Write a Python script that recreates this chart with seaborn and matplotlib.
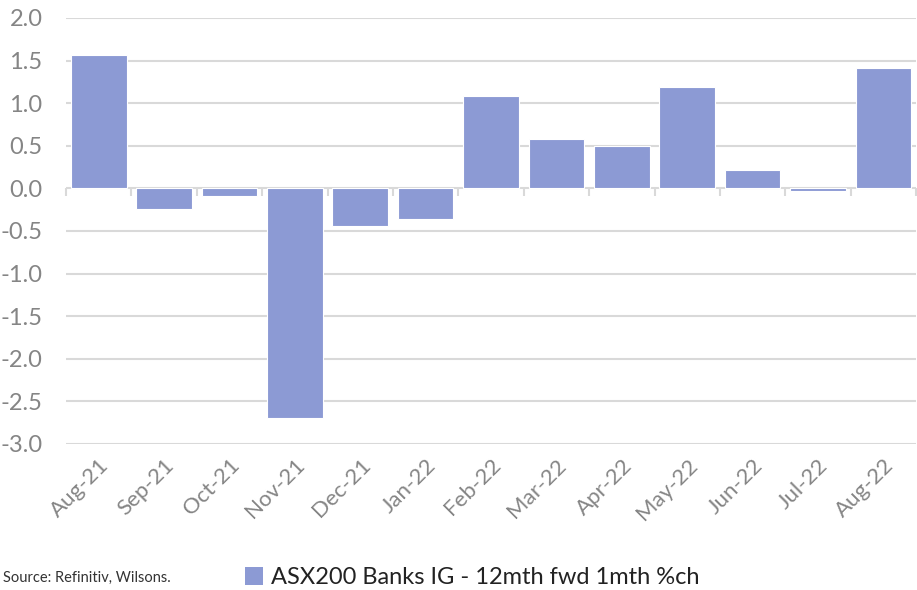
import numpy as np
import pandas as pd
import seaborn as sns
import matplotlib.pyplot as plt
from matplotlib.patches import Patch
from matplotlib.ticker import NullFormatter

months = ["Aug-21", "Sep-21", "Oct-21", "Nov-21", "Dec-21", "Jan-22", "Feb-22",
          "Mar-22", "Apr-22", "May-22", "Jun-22", "Jul-22", "Aug-22"]
pct_change = [1.57, -0.24, -0.09, -2.70, -0.44, -0.36, 1.09,
              0.58, 0.50, 1.19, 0.22, -0.03, 1.41]
y_ticks = [2.0, 1.5, 1.0, 0.5, 0.0, -0.5, -1.0, -1.5, -2.0, -2.5, -3.0]
series_name = "ASX200 Banks IG - 12mth fwd 1mth %ch"
source = "Source: Refinitiv, Wilsons."

bar_color = "#8c9ad4"
grid_color = "#d9d9d9"
label_color = "#858585"

sns.set_style("white")
plt.rcParams['font.family'] = ['Lato', 'DejaVu Sans']

df = pd.DataFrame({"month": months, "value": pct_change})

fig = plt.figure(figsize=(9.17, 5.90), dpi=100)
ax = fig.add_axes([0.072, 0.2475, 0.927, 0.722])

sns.barplot(data=df, x="month", y="value", color=bar_color, saturation=1,
            width=0.85, edgecolor="white", linewidth=0.8, ax=ax, zorder=3)

ax.set_ylim(-3.0, 2.0)
ax.set_xlim(-0.5, len(months) - 0.5)
ax.set_yticks(y_ticks)
ax.set_yticklabels([f"{v:.1f}" for v in y_ticks], fontsize=17, color=label_color)
ax.yaxis.grid(True, color=grid_color, linewidth=1.5, zorder=0)
ax.set_axisbelow(True)
ax.tick_params(axis="y", length=0, pad=17)
ax.tick_params(axis="x", length=0, pad=8)
ax.set_xticks(range(len(months)))
ax.set_xticklabels(months, rotation=45, ha="right", rotation_mode="anchor",
                   fontsize=16, color=label_color)
ax.set_xlabel("")
ax.set_ylabel("")
for s in ax.spines.values():
    s.set_visible(False)

# zero line with tick marks between categories
zero_frac = (0 - (-3.0)) / 5.0
zax = ax.secondary_xaxis(zero_frac)
zax.set_xticks(np.arange(-0.5, len(months), 1.0))
zax.xaxis.set_major_formatter(NullFormatter())
zax.tick_params(axis="x", direction="out", length=6, width=1.5,
                color=grid_color)
zax.xaxis.set_ticks_position("bottom")
zax.spines["bottom"].set_color(grid_color)
zax.spines["bottom"].set_linewidth(1.5)
for k in ["top", "left", "right"]:
    zax.spines[k].set_visible(False)

handle = Patch(facecolor=bar_color, edgecolor="none")
fig.legend([handle], [series_name], loc="center left",
           bbox_to_anchor=(0.267, 0.021), frameon=False, fontsize=17,
           handlelength=0.75, handleheight=0.75, handletextpad=0.35,
           borderaxespad=0, borderpad=0, labelcolor="#222222")
fig.text(0.003, 0.020, source, fontsize=10.5, color="#333333", va="center")

fig.savefig("out.png", dpi=100)
